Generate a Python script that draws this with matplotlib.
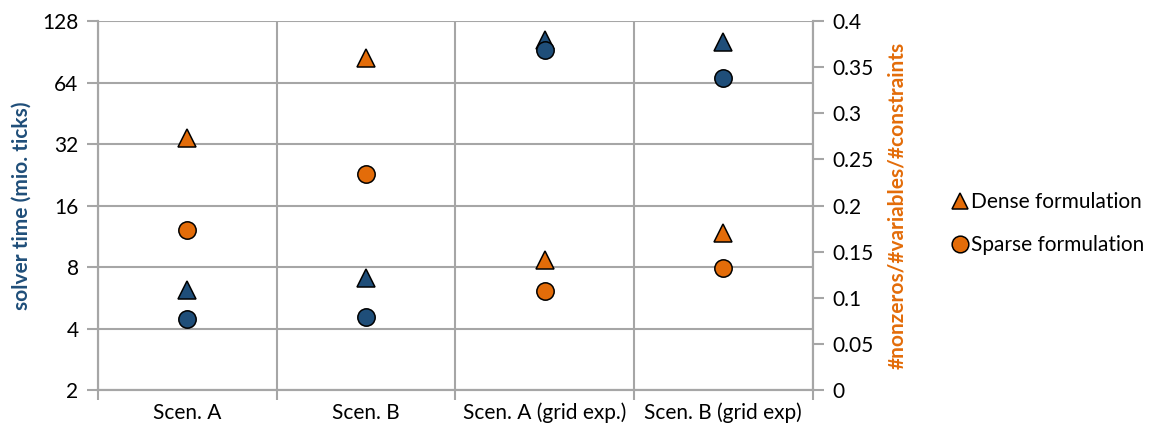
import matplotlib.pyplot as plt
from matplotlib.lines import Line2D
from matplotlib.ticker import FixedLocator, FuncFormatter

plt.rcParams['font.family'] = ['Lato', 'DejaVu Sans']

# scenarios on the x axis
scenarios = ["Scen. A", "Scen. B", "Scen. A (grid exp.)", "Scen. B (grid exp)"]

# solver time in mio. ticks (left axis, log2)
time_dense = [6.2, 7.1, 103, 101]
time_sparse = [4.45, 4.55, 92, 67]

# nonzeros / variables / constraints (right axis)
nnz_dense = [0.273, 0.360, 0.141, 0.170]
nnz_sparse = [0.173, 0.234, 0.107, 0.132]

blue = "#1F4E79"
orange = "#E36C09"
grid_col = "#A6A6A6"
fs = 15

fig = plt.figure(figsize=(11.56, 4.33), dpi=100)
ax = fig.add_axes([0.0848, 0.0993, 0.703 - 0.0848, 0.9515 - 0.0993])
ax2 = ax.twinx()

x = range(len(scenarios))
mk = dict(linestyle="none", markersize=12.5, markeredgecolor="black", markeredgewidth=1.1)
ax.plot(x, time_dense, marker="^", color=blue, **mk, zorder=3)
ax.plot(x, time_sparse, marker="o", color=blue, **mk, zorder=3)
ax2.plot(x, nnz_dense, marker="^", color=orange, **mk, zorder=3)
ax2.plot(x, nnz_sparse, marker="o", color=orange, **mk, zorder=3)

# left axis: log base 2
ax.set_yscale("log", base=2)
ax.set_ylim(2, 128)
ax.yaxis.set_major_locator(FixedLocator([2, 4, 8, 16, 32, 64, 128]))
ax.yaxis.set_major_formatter(FuncFormatter(lambda v, p: f"{v:g}"))
ax.yaxis.set_minor_locator(FixedLocator([]))
ax.grid(axis="y", color=grid_col, linewidth=1.5)
ax.set_axisbelow(True)

# categories with gridlines between them
ax.set_xlim(-0.5, len(scenarios) - 0.5)
ax.set_xticks(list(x))
ax.set_xticklabels(scenarios)
ax.set_xticks([i - 0.5 for i in range(len(scenarios) + 1)], minor=True)
ax.grid(axis="x", which="minor", color=grid_col, linewidth=1.5)
ax.tick_params(axis="x", which="major", length=0, labelsize=fs, pad=9)
ax.tick_params(axis="x", which="minor", length=7, width=1.5, color=grid_col)
ax.tick_params(axis="y", length=8, width=1.5, color=grid_col, labelsize=fs, pad=6)

# right axis: linear ratio
ax2.set_ylim(0, 0.4)
ticks2 = [i * 0.05 for i in range(9)]
ax2.yaxis.set_major_locator(FixedLocator(ticks2))
ax2.yaxis.set_major_formatter(FuncFormatter(lambda v, p: f"{round(v, 2):g}"))
ax2.tick_params(axis="y", length=8, width=1.5, color=grid_col, labelsize=fs, pad=6)

for a in (ax, ax2):
    for s in a.spines.values():
        s.set_color(grid_col)
        s.set_linewidth(1.5)
    a.spines["top"].set_visible(False)

ax.set_ylabel("solver time (mio. ticks)", color=blue, fontweight="bold", fontsize=fs, labelpad=8)
ax2.set_ylabel("#nonzeros/#variables/#constraints", color=orange, fontweight="bold",
               fontsize=fs, labelpad=10)

handles = [
    Line2D([], [], marker="^", color=orange, linestyle="none", markersize=12,
           markeredgecolor="black", markeredgewidth=1.1, label="Dense formulation"),
    Line2D([], [], marker="o", color=orange, linestyle="none", markersize=12,
           markeredgecolor="black", markeredgewidth=1.1, label="Sparse formulation"),
]
fig.legend(handles=handles, loc="center left", bbox_to_anchor=(0.805, 0.484), frameon=False,
           fontsize=fs, handletextpad=0.05, labelspacing=1.1, handlelength=1.0)

fig.savefig("out.png", dpi=100)
